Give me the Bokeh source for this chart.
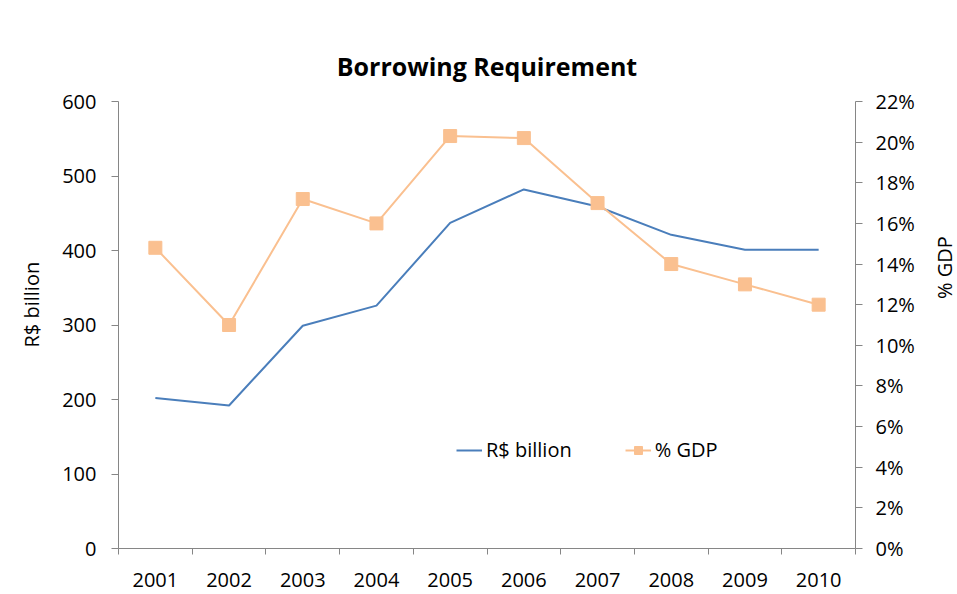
import math
from bokeh.plotting import figure
from bokeh.models import (Range1d, LinearAxis, FixedTicker, PrintfTickFormatter,
                          Legend, LegendItem, Title, Label)
from bokeh.embed import file_html
from bokeh.resources import INLINE

years = [2001, 2002, 2003, 2004, 2005, 2006, 2007, 2008, 2009, 2010]
rs_billion = [202, 192, 299, 326, 437, 482, 459, 421, 401, 401]
pct_gdp = [14.8, 11.0, 17.2, 16.0, 20.3, 20.2, 17.0, 14.0, 13.0, 12.0]
left_ticks = [0, 100, 200, 300, 400, 500, 600]
right_ticks = [0, 2, 4, 6, 8, 10, 12, 14, 16, 18, 20, 22]

FONT = "Open Sans"
FS = "20px"
AXIS_COLOR = "#868686"

p = figure(width=957, height=594, output_backend="svg", toolbar_location=None,
           x_range=Range1d(years[0] - 0.5, years[-1] + 0.5),
           y_range=Range1d(0, 600),
           min_border_left=117, min_border_right=102,
           min_border_top=101, min_border_bottom=46,
           title="Borrowing Requirement")
p.extra_y_ranges = {"pct": Range1d(0, 22)}
p.outline_line_color = None
p.grid.visible = False
p.background_fill_color = "white"
p.border_fill_color = "white"

p.title.text_font = FONT
p.title.text_font_size = "25px"
p.title.text_font_style = "bold"
p.title.text_color = "black"
p.title.align = "center"
p.title.standoff = 38

# x axis
xa = p.xaxis[0]
xa.ticker = FixedTicker(ticks=years, minor_ticks=[y - 0.5 for y in years] + [years[-1] + 0.5])
xa.major_tick_out = 0
xa.major_tick_in = 0
xa.minor_tick_out = 6
xa.minor_tick_in = 0
xa.minor_tick_line_color = AXIS_COLOR
xa.axis_line_color = AXIS_COLOR
xa.major_label_text_font = FONT
xa.major_label_text_font_size = FS
xa.major_label_text_color = "black"
xa.major_label_standoff = 18

# left axis
ya = p.yaxis[0]
ya.ticker = FixedTicker(ticks=left_ticks)
ya.minor_tick_line_color = None
ya.major_tick_out = 7
ya.major_tick_in = 0
ya.major_tick_line_color = AXIS_COLOR
ya.axis_line_color = AXIS_COLOR
ya.major_label_text_font = FONT
ya.major_label_text_font_size = FS
ya.major_label_text_color = "black"
ya.major_label_standoff = 15

# right axis
ra = LinearAxis(y_range_name="pct", ticker=FixedTicker(ticks=right_ticks),
                formatter=PrintfTickFormatter(format="%d%%"))
ra.minor_tick_line_color = None
ra.major_tick_out = 7
ra.major_tick_in = 0
ra.major_tick_line_color = AXIS_COLOR
ra.axis_line_color = AXIS_COLOR
ra.major_label_text_font = FONT
ra.major_label_text_font_size = FS
ra.major_label_text_color = "black"
ra.major_label_standoff = 13
p.add_layout(ra, "right")

blue = p.line(years, rs_billion, line_color="#4A7EBB", line_width=2)
oline = p.line(years, pct_gdp, line_color="#FAC090", line_width=2, y_range_name="pct")
omark = p.scatter(years, pct_gdp, marker="square", size=13, fill_color="#FAC090",
                  line_color="#FAC090", y_range_name="pct")

legend = Legend(items=[LegendItem(label="R$ billion", renderers=[blue]),
                       LegendItem(label="% GDP", renderers=[oline, omark])],
                orientation="horizontal", location=(338, 85),
                border_line_color=None, background_fill_alpha=0,
                padding=0, margin=0, spacing=53, label_standoff=4,
                glyph_width=26, glyph_height=20,
                label_text_font=FONT, label_text_font_size=FS,
                label_text_color="black")
p.add_layout(legend, "center")

p.add_layout(Title(text="R$ billion", align="left", offset=201, standoff=30,
                   text_font=FONT, text_font_size=FS, text_font_style="normal",
                   text_color="black"), "left")

p.add_layout(Label(x=27, y=281, x_units="screen", y_units="screen", text="% GDP",
                   angle=math.pi / 2, text_align="center", text_baseline="middle",
                   text_line_height=1.0,
                   text_font=FONT, text_font_size=FS, text_color="black"), "right")

open("out.html", "w").write(file_html(p, INLINE))
